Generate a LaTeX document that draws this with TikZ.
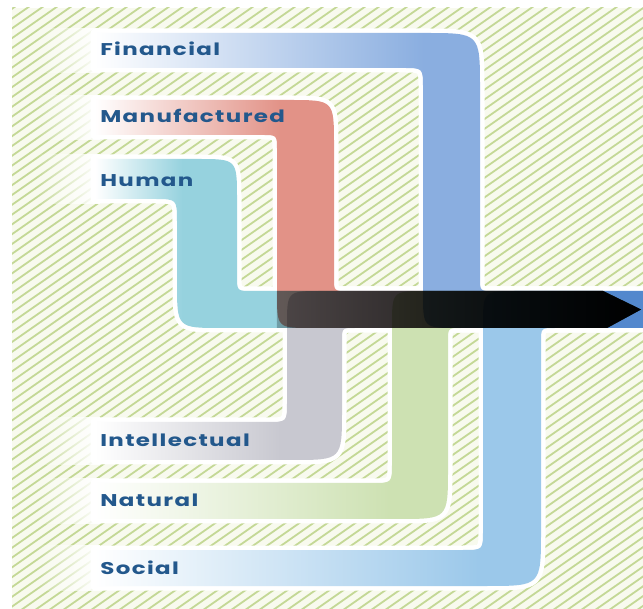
\documentclass[tikz,border=0pt]{standalone}
\usepackage{fontspec}
\newfontfamily\capfont{Poppins}[LetterSpace=6]
\usetikzlibrary{fadings}

\definecolor{finblue}{RGB}{138,174,224}
\definecolor{manred}{RGB}{226,146,135}
\definecolor{humteal}{RGB}{150,210,222}
\definecolor{intgray}{RGB}{200,200,208}
\definecolor{natgreen}{RGB}{205,225,178}
\definecolor{socblue}{RGB}{155,200,234}
\definecolor{capblue}{RGB}{35,88,140}
\definecolor{hatchgreen}{RGB}{196,216,150}
\definecolor{hatchbg}{RGB}{248,250,238}

% white at the label end, full colour where the band turns
\newcommand{\bandshading}[3]{\pgfdeclarehorizontalshading{#1}{100bp}{color(0bp)=(white); color(25bp)=(white); color(#3bp)=(#2); color(100bp)=(#2)}}
\bandshading{finshade}{finblue}{55}
\bandshading{manshade}{manred}{42}
\bandshading{humshade}{humteal}{33}
\bandshading{intshade}{intgray}{42}
\bandshading{natshade}{natgreen}{52}
\bandshading{socshade}{socblue}{60}

\tikzfading[name=glowin, left color=transparent!100, right color=transparent!0]
\tikzfading[name=darken, left color=transparent!75, right color=transparent!0]

% band outlines
\newcommand{\finpath}{(95,33) -- (425,33) .. controls (480,33) .. (480,88) -- (480,278) .. controls (480,291) .. (493,291) -- (643,291) -- (643,328) -- (458,328) .. controls (423,328) .. (423,293) -- (423,88) .. controls (423,68) .. (403,68) -- (95,68) -- cycle}
\newcommand{\manpath}{(95,100) -- (289,100) .. controls (334,100) .. (334,145) -- (334,278) .. controls (334,291) .. (347,291) -- (603,291) -- (641,309.5) -- (607,328) -- (312,328) .. controls (277,328) .. (277,293) -- (277,150) .. controls (277,135) .. (262,135) -- (95,135) -- cycle}
\newcommand{\humpath}{(95,159) -- (197,159) .. controls (237,159) .. (237,199) -- (237,276) .. controls (237,291) .. (252,291) -- (603,291) -- (641,309.5) -- (607,328) -- (222,328) .. controls (177,328) .. (177,283) -- (177,222) .. controls (177,199) .. (154,199) -- (95,199) -- cycle}
\newcommand{\intpath}{(95,422) -- (267,422) .. controls (287,422) .. (287,402) -- (287,326) .. controls (287,291) .. (322,291) -- (603,291) -- (641,309.5) -- (607,328) -- (355,328) .. controls (342,328) .. (342,341) -- (342,410) .. controls (342,460) .. (292,460) -- (95,460) -- cycle}
\newcommand{\natpath}{(95,483) -- (372,483) .. controls (392,483) .. (392,463) -- (392,326) .. controls (392,291) .. (427,291) -- (603,291) -- (641,309.5) -- (607,328) -- (461,328) .. controls (448,328) .. (448,341) -- (448,469) .. controls (448,519) .. (398,519) -- (95,519) -- cycle}
\newcommand{\socpath}{(95,550) -- (463,550) .. controls (483,550) .. (483,530) -- (483,326) .. controls (483,291) .. (518,291) -- (643,291) -- (643,328) -- (555,328) .. controls (541,328) .. (541,342) -- (541,531) .. controls (541,586) .. (486,586) -- (95,586) -- cycle}

\tikzset{
  hatchline/.style={draw=hatchgreen, line width=1.8pt},
  underlay/.style={draw=white, fill=white, line width=9pt, line join=round},
  captext/.style={font=\capfont\bfseries\fontsize{17}{18}\selectfont, text=capblue, anchor=base west, inner sep=0pt, xscale=1.35}
}

\begin{document}
\begin{tikzpicture}[x=1pt,y=-1pt]
\useasboundingbox (0,0) rectangle (643,609);
\fill[white] (0,0) rectangle (643,609);

% hatched ground
\begin{scope}
  \clip (12,8) rectangle (643,609);
  \fill[hatchbg] (12,8) rectangle (643,609);
  \foreach \i in {-66,...,48}
    \draw[hatchline] (\i*14,615) -- ++(900,-630);
\end{scope}

% soft white ends
\foreach \t/\b in {33/68,100/135,159/199,422/460,483/519,550/586}
  \fill[white, path fading=glowin] (35,\t-5) rectangle (100,\b+5);

\draw[underlay] \finpath;
\draw[underlay] \manpath;
\draw[underlay] \humpath;
\draw[underlay] \intpath;
\draw[underlay] \natpath;
\draw[underlay] \socpath;

\begin{scope}[blend mode=multiply]
  \shade[shading=finshade] \finpath;
  \shade[shading=manshade] \manpath;
  \shade[shading=humshade] \humpath;
  \shade[shading=intshade] \intpath;
  \shade[shading=natshade] \natpath;
  \shade[shading=socshade] \socpath;
\end{scope}

\fill[black, path fading=darken] (277,291) -- (603,291) -- (641,309.5) -- (607,328) -- (277,328) -- cycle;

\node[captext] (fin) at (100,56) {Financial};
\node[captext] (man) at (100,123) {Manufactured};
\node[captext] (hum) at (100,187) {Human};
\node[captext] (int) at (100,447) {Intellectual};
\node[captext] (nat) at (100,507) {Natural};
\node[captext] (soc) at (100,574) {Social};
\end{tikzpicture}
\end{document}
